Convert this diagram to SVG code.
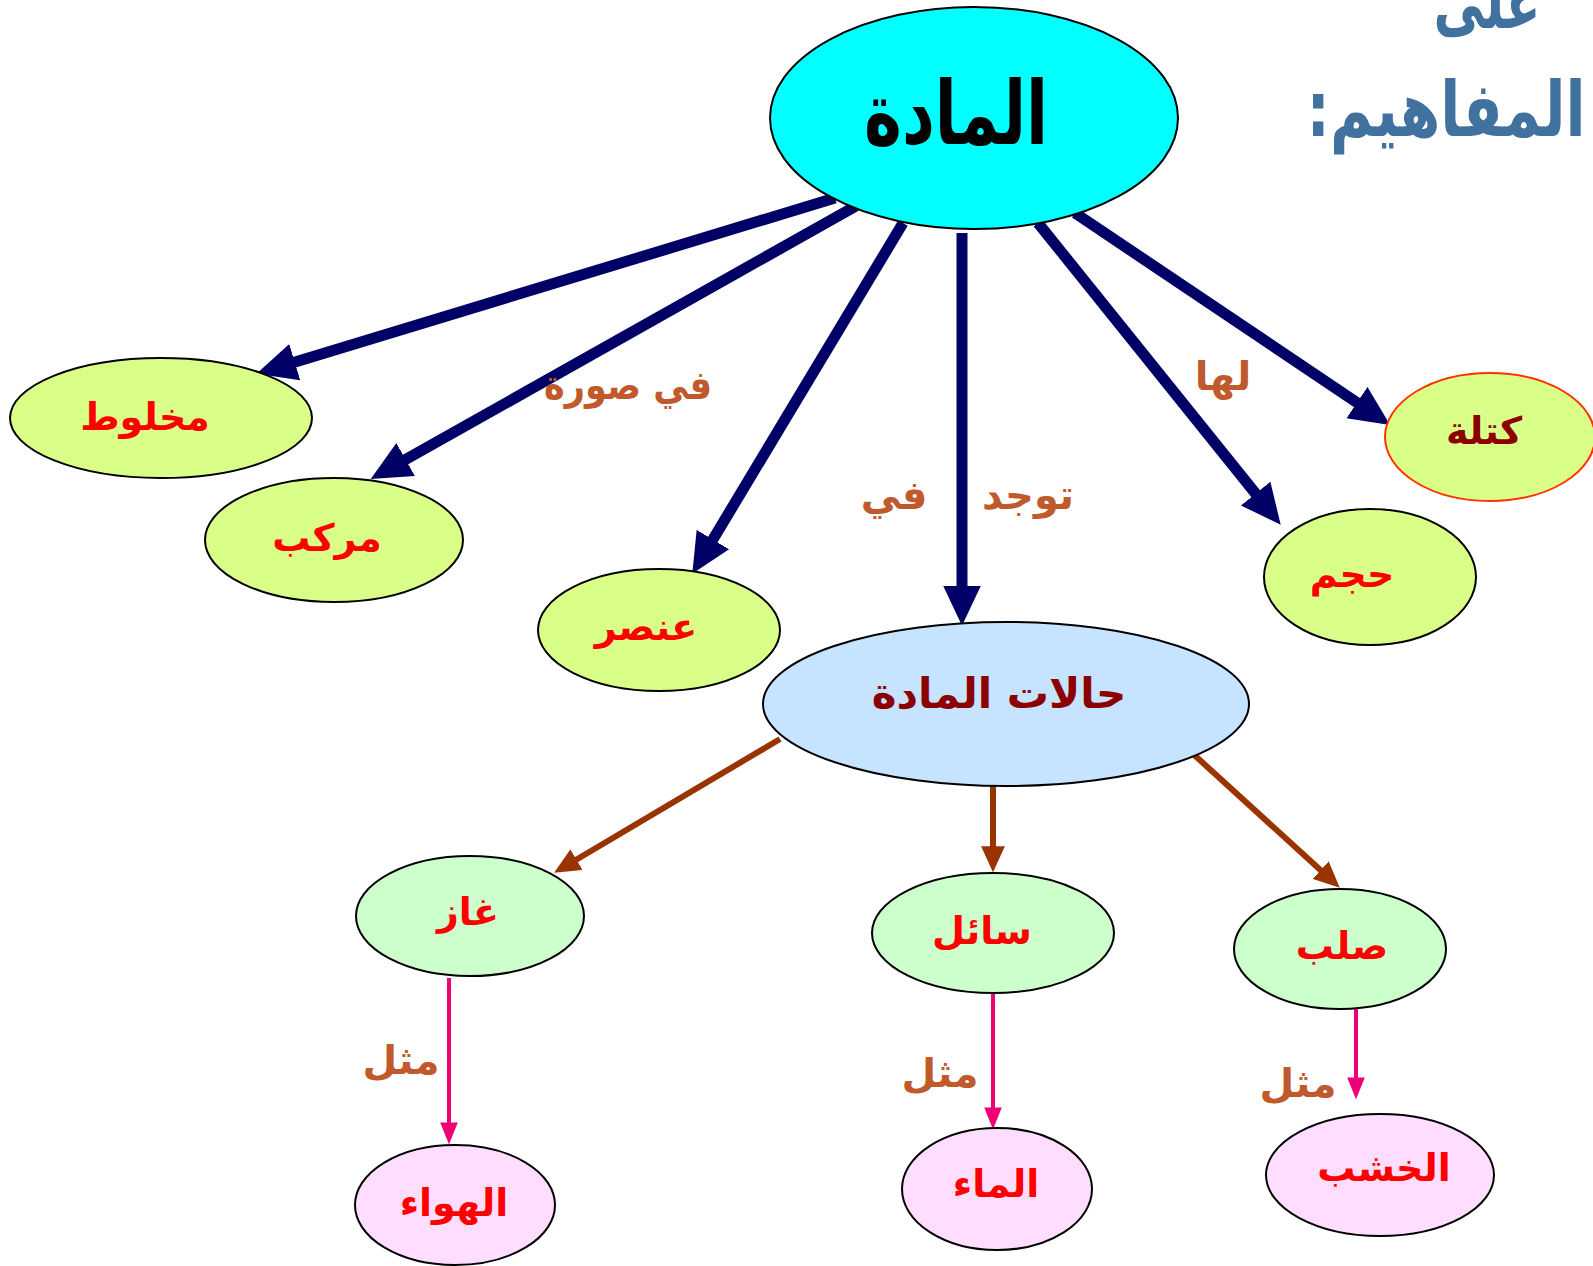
<svg xmlns="http://www.w3.org/2000/svg" width="1593" height="1266" viewBox="0 0 1593 1266">
<style>
text{font-family:"DejaVu Sans","Noto Sans",sans-serif;font-weight:bold;text-anchor:middle;direction:rtl}
.nd{stroke:#000;stroke-width:2}
.yg{fill:#DAFF88}
.gr{fill:#CCFFCC}
.pk{fill:#FFDDFF}
.t{fill:#FF0000;font-size:38px}
.td{fill:#8B0000}
.lb{fill:#C0592B;font-size:40px}
.nv{stroke:#000066;stroke-width:11;fill:none}
.br{stroke:#993300;stroke-width:6;fill:none}
.pi{stroke:#EE0077;stroke-width:4;fill:none}
</style>
<defs>
<marker id="an" markerUnits="userSpaceOnUse" markerWidth="40" markerHeight="40" viewBox="0 0 36 34" refX="12" refY="17" orient="auto"><path d="M0,0 L36,17 L0,34 Z" fill="#000066"/></marker>
<marker id="ab" markerUnits="userSpaceOnUse" markerWidth="26" markerHeight="24" viewBox="0 0 24 22" refX="8" refY="11" orient="auto"><path d="M0,0 L24,11 L0,22 Z" fill="#993300"/></marker>
<marker id="ap" markerUnits="userSpaceOnUse" markerWidth="22" markerHeight="18" viewBox="0 0 20 16" refX="6" refY="8" orient="auto"><path d="M0,0 L20,8 L0,16 Z" fill="#EE0077"/></marker>
</defs>
<rect width="1593" height="1266" fill="#fff"/>
<g id="title">
<text x="1487" y="28" fill="#41729F" style="font-size:74px" textLength="107" lengthAdjust="spacingAndGlyphs">على</text>
<text x="1446" y="136" fill="#41729F" style="font-size:76px" textLength="279" lengthAdjust="spacingAndGlyphs">المفاهيم:</text>
</g>
<g id="connectors">
<line class="nv" x1="835" y1="198" x2="282" y2="366" marker-end="url(#an)"/>
<line class="nv" x1="856" y1="206" x2="394" y2="466" marker-end="url(#an)"/>
<line class="nv" x1="903" y1="223" x2="706" y2="551" marker-end="url(#an)"/>
<line class="nv" x1="962" y1="233" x2="962" y2="599" marker-end="url(#an)"/>
<line class="nv" x1="1038" y1="223" x2="1264" y2="504" marker-end="url(#an)"/>
<line class="nv" x1="1075" y1="213" x2="1368" y2="410" marker-end="url(#an)"/>
<line class="br" x1="780" y1="739" x2="569" y2="864" marker-end="url(#ab)"/>
<line class="br" x1="993" y1="782" x2="993" y2="855" marker-end="url(#ab)"/>
<line class="br" x1="1191" y1="752" x2="1327" y2="876" marker-end="url(#ab)"/>
<line class="pi" x1="449" y1="978" x2="449" y2="1129" marker-end="url(#ap)"/>
<line class="pi" x1="993" y1="993" x2="993" y2="1114" marker-end="url(#ap)"/>
<line class="pi" x1="1356" y1="1008" x2="1356" y2="1084" marker-end="url(#ap)"/>
<text class="lb" x="628" y="399" textLength="168" lengthAdjust="spacingAndGlyphs">في صورة</text>
<text class="lb" x="894" y="509">في</text>
<text class="lb" x="1028" y="509">توجد</text>
<text class="lb" x="1223" y="390">لها</text>
<text class="lb" x="401" y="1074">مثل</text>
<text class="lb" x="940" y="1087">مثل</text>
<text class="lb" x="1298" y="1097">مثل</text>
</g>
<g id="n-matter">
<ellipse cx="974" cy="118" rx="204" ry="111" fill="#00FFFF" class="nd"/>
<text x="956" y="144" fill="#000" style="font-size:88px" textLength="184" lengthAdjust="spacingAndGlyphs">المادة</text>
</g>
<g id="n-mixture">
<ellipse cx="161" cy="418" rx="151" ry="60" class="nd yg"/>
<text class="t" x="145" y="430">مخلوط</text>
</g>
<g id="n-compound">
<ellipse cx="334" cy="540" rx="129" ry="62" class="nd yg"/>
<text class="t" x="327" y="551">مركب</text>
</g>
<g id="n-element">
<ellipse cx="659" cy="630" rx="121" ry="61" class="nd yg"/>
<text class="t" x="646" y="640">عنصر</text>
</g>
<g id="n-states">
<ellipse cx="1006" cy="704" rx="243" ry="82" fill="#C6E3FF" class="nd"/>
<text class="td" x="999" y="708" style="font-size:42px">حالات المادة</text>
</g>
<g id="n-volume">
<ellipse cx="1370" cy="577" rx="106" ry="68" class="nd yg"/>
<text class="t" x="1352" y="587">حجم</text>
</g>
<g id="n-mass">
<ellipse cx="1490" cy="437" rx="105" ry="64" class="yg" stroke="#FF3300" stroke-width="2"/>
<text class="td" x="1484" y="444" style="font-size:38px">كتلة</text>
</g>
<g id="n-gas">
<ellipse cx="470" cy="916" rx="114" ry="60" class="nd gr"/>
<text class="t" x="468" y="925">غاز</text>
</g>
<g id="n-liquid">
<ellipse cx="993" cy="933" rx="121" ry="60" class="nd gr"/>
<text class="t" x="982" y="944">سائل</text>
</g>
<g id="n-solid">
<ellipse cx="1340" cy="949" rx="106" ry="60" class="nd gr"/>
<text class="t" x="1342" y="959">صلب</text>
</g>
<g id="n-air">
<ellipse cx="455" cy="1205" rx="100" ry="60" class="nd pk"/>
<text class="t" x="454" y="1216">الهواء</text>
</g>
<g id="n-water">
<ellipse cx="997" cy="1189" rx="95" ry="61" class="nd pk"/>
<text class="t" x="996" y="1197">الماء</text>
</g>
<g id="n-wood">
<ellipse cx="1380" cy="1175" rx="114" ry="61" class="nd pk"/>
<text class="t" x="1384" y="1181">الخشب</text>
</g>
</svg>
